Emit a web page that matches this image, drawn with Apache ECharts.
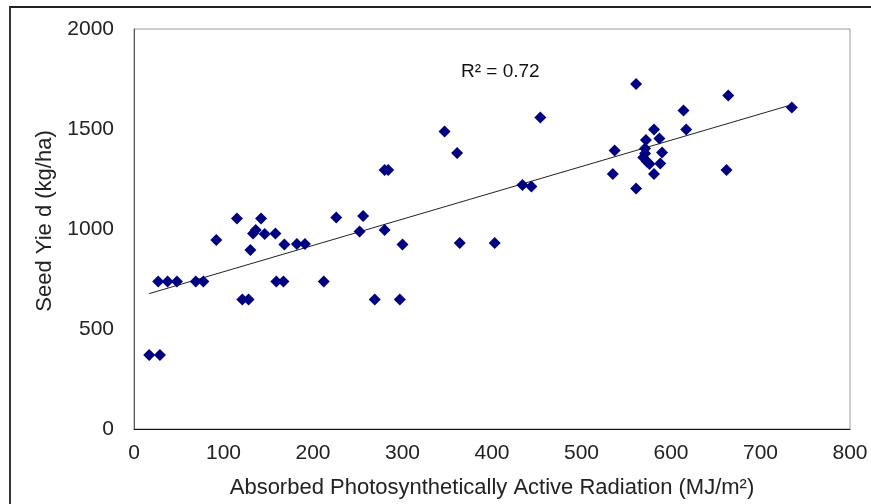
<!DOCTYPE html>
<html>
<head>
<meta charset="utf-8">
<script src="https://cdn.jsdelivr.net/npm/echarts@6/dist/echarts.min.js"></script>
<style>
	html, body { margin: 0; padding: 0; background: #fff; }
	#frame {
		position: absolute; left: 9px; top: 6px; right: 0; bottom: 0;
		border-top: 2px solid #222; border-left: 2px solid #333;
	}
	#chart { position: absolute; left: 0; top: 0; width: 871px; height: 504px; }
</style>
</head>
<body>
<div id="frame"></div>
<div id="chart"></div>
<script>
// APAR (MJ/m2) 与产量 (kg/ha)
const aparX = [
	17, 29,
	27, 37.5, 48, 69, 77.5, 159, 167, 212,
	121, 128, 269, 297,
	92, 115, 130, 133, 136, 142, 146, 158, 168, 182, 191,
	226, 256, 252, 280, 284, 280, 300, 347, 361, 364, 403,
	454, 434, 444, 561, 664, 735, 614, 617, 581, 572, 587,
	537, 571, 571, 590, 569, 573, 576, 588, 535, 581, 662, 561
];
const yieldY = [
	370, 370,
	737, 737, 737, 737, 737, 737, 737, 737,
	648, 648, 648, 648,
	945, 1053, 895, 978, 995, 1053, 975, 978, 923, 925, 925,
	1057, 1065, 987, 1295, 1295, 995, 923, 1487, 1380, 930, 930,
	1557, 1220, 1212, 1725, 1667, 1608, 1592, 1498, 1498, 1445, 1452,
	1392, 1403, 1378, 1382, 1358, 1337, 1325, 1328, 1275, 1275, 1295, 1203
];
const xTicks = [0, 800, 100];
const yTicks = [0, 2000, 500];
const r2Label = 'R² = 0.72';

// 线性回归趋势线
function linearFit(xs, ys) {
	const n = xs.length;
	let sx = 0, sy = 0, sxx = 0, sxy = 0;
	for (let i = 0; i < n; i++) {
		sx += xs[i]; sy += ys[i];
		sxx += xs[i] * xs[i]; sxy += xs[i] * ys[i];
	}
	const k = (n * sxy - sx * sy) / (n * sxx - sx * sx);
	const b = (sy - k * sx) / n;
	return { k, b };
}

const points = aparX.map((x, i) => [x, yieldY[i]]);
const fit = linearFit(aparX, yieldY);
const xMin = Math.min(...aparX), xMax = Math.max(...aparX);
const trend = [[xMin, fit.k * xMin + fit.b], [xMax, fit.k * xMax + fit.b]];

const font = '"Liberation Sans", Arial, sans-serif';

const chart = echarts.init(document.getElementById('chart'));
chart.setOption({
	animation: false,
	backgroundColor: 'transparent',
	title: {
		text: r2Label,
		left: 456,
		top: 57,
		textStyle: { fontFamily: font, fontSize: 19, fontWeight: 'normal', color: '#111' }
	},
	grid: {
		left: 134, right: 21, top: 29, bottom: 75,
		show: true,
		borderColor: '#9a9a9a',
		borderWidth: 1
	},
	xAxis: {
		type: 'value',
		min: xTicks[0], max: xTicks[1], interval: xTicks[2],
		name: 'Absorbed Photosynthetically Active Radiation (MJ/m²)',
		nameLocation: 'middle',
		nameGap: 48,
		nameTextStyle: { fontFamily: font, fontSize: 22, color: '#222' },
		axisLine: { show: true, lineStyle: { color: '#111', width: 1 } },
		axisTick: { show: false },
		axisLabel: { fontFamily: font, fontSize: 21, color: '#222', margin: 14, formatter: v => String(v) },
		splitLine: { show: false }
	},
	yAxis: {
		type: 'value',
		min: yTicks[0], max: yTicks[1], interval: yTicks[2],
		name: 'Seed Yie d (kg/ha)',
		nameLocation: 'middle',
		nameGap: 78,
		nameTextStyle: { fontFamily: font, fontSize: 22, color: '#222', padding: [0, 0, 0, 16] },
		axisLine: { show: true, lineStyle: { color: '#555', width: 1 } },
		axisTick: { show: false },
		axisLabel: { fontFamily: font, fontSize: 21, color: '#222', margin: 20, formatter: v => String(v) },
		splitLine: { show: false }
	},
	series: [
		{
			type: 'line',
			data: trend,
			symbol: 'none',
			lineStyle: { color: '#222', width: 1 },
			z: 1
		},
		{
			type: 'scatter',
			data: points,
			symbol: 'diamond',
			symbolSize: 12,
			itemStyle: { color: '#000080', opacity: 1 },
			z: 2
		}
	]
});
</script>
</body>
</html>
